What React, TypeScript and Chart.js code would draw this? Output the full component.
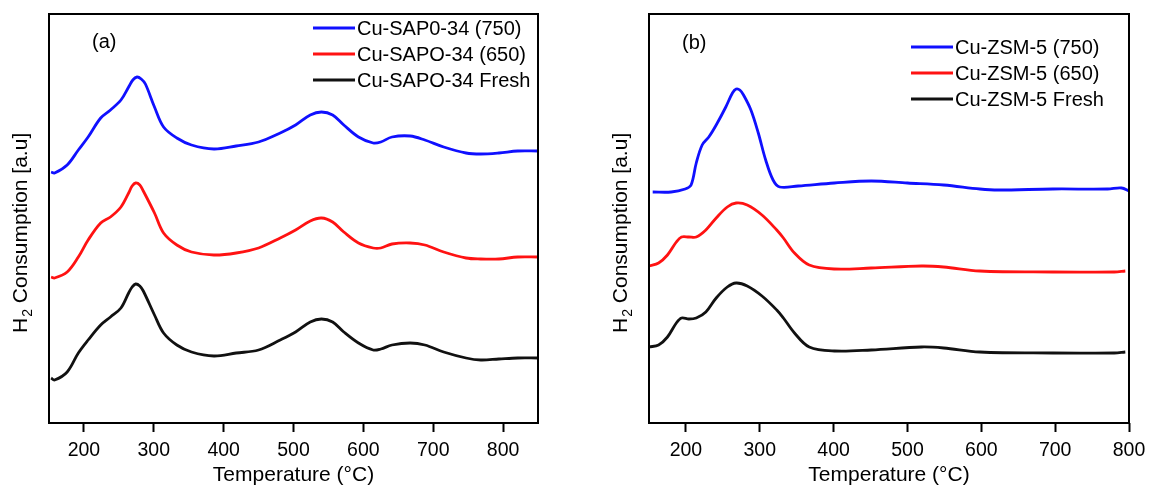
import React, { useEffect, useRef } from "react";
import { Chart, registerables } from "chart.js";

Chart.register(...registerables);

const FONT = "'Liberation Sans', Arial, Helvetica, sans-serif";

// ---------- Panel (a): Cu-SAPO-34 ----------
const tempA750 = [153, 158, 176, 192, 206, 224, 238, 253, 264, 270, 276, 282, 288, 301, 314, 333, 354, 386, 418, 450, 481, 503, 524, 540, 556, 572, 593, 614, 625, 641, 667, 688, 715, 747, 768, 794, 821, 850];
const tempA = [153, 158, 176, 192, 206, 224, 238, 253, 264, 269, 274, 280, 285, 301, 314, 333, 354, 386, 418, 450, 481, 503, 524, 540, 556, 572, 593, 614, 625, 641, 667, 688, 715, 747, 768, 794, 821, 850];
const sapo750 = [251, 250, 258, 273, 286, 305, 313, 323, 336, 343, 346, 344, 339, 316, 296, 285, 278, 274, 277, 281, 290, 298, 308, 311, 308, 298, 286, 280, 281, 286, 287, 283, 276, 270, 269, 270, 272, 272];
const sapo650 = [146, 145, 151, 166, 183, 200, 206, 216, 230, 237, 240, 238, 232, 210, 190, 178, 171, 168, 170, 175, 185, 193, 202, 205, 201, 191, 180, 175, 175, 179, 180, 178, 171, 165, 164, 164, 166, 166];
const sapoFresh = [45, 43, 51, 70, 83, 98, 106, 115, 130, 136, 139, 137, 132, 108, 90, 78, 71, 67, 70, 73, 83, 91, 101, 104, 101, 91, 80, 73, 74, 78, 80, 78, 71, 65, 63, 64, 65, 65];
const labelsA = ["Cu-SAP0-34 (750)", "Cu-SAPO-34 (650)", "Cu-SAPO-34 Fresh"];
const xTicksA = [200, 300, 400, 500, 600, 700, 800];

// ---------- Panel (b): Cu-ZSM-5 ----------
const tempB750 = [155, 180, 199, 207, 214, 222, 231, 241, 254, 263, 268, 273, 278, 288, 298, 308, 318, 327, 352, 401, 451, 500, 549, 598, 623, 697, 771, 790, 800];
const tempB = [150, 163, 175, 187, 194, 204, 214, 227, 241, 256, 268, 283, 303, 323, 332, 347, 367, 401, 451, 519, 549, 598, 697, 780, 795];
const zsm750 = [231, 231, 234, 238, 260, 278, 286, 298, 316, 330, 334, 333, 328, 313, 290, 263, 243, 236, 237, 240, 242, 240, 238, 234, 233, 234, 234, 235, 232];
const zsm650 = [157, 160, 168, 181, 186, 186, 186, 193, 205, 216, 220, 218, 208, 193, 185, 170, 158, 154, 155, 157, 156, 152, 151, 151, 152];
const zsmFresh = [76, 78, 86, 100, 105, 104, 105, 111, 125, 136, 140, 137, 127, 113, 105, 90, 76, 72, 73, 76, 75, 71, 70, 70, 71];
const labelsB = ["Cu-ZSM-5 (750)", "Cu-ZSM-5 (650)", "Cu-ZSM-5 Fresh"];
const xTicksB = [200, 300, 400, 500, 600, 700, 800];

const COLORS = ["#1010ff", "#ff1212", "#111111"];

function pts(xs: number[], ys: number[]) {
  return xs.map((x, i) => ({ x, y: ys[i] }));
}

type PanelProps = {
  left: number;
  width: number;
  padL: number;
  padR: number;
  yW: number;
  xMax: number;
  xTicks: number[];
  series: { label: string; xs: number[]; ys: number[] }[];
  tag: string;
  tagX: number;
  tagY: number;
  legendX: number;
  legendY: number;
  yTitleX: number;
};

function Panel(p: PanelProps) {
  const ref = useRef<HTMLCanvasElement>(null);
  useEffect(() => {
    const canvas = ref.current!;
    const overlay = {
      id: "overlay",
      afterDatasetsDraw(chart: any) {
        const { ctx, chartArea: a } = chart;
        ctx.save();
        ctx.strokeStyle = "#000";
        ctx.lineWidth = 2;
        ctx.strokeRect(a.left, a.top, a.right - a.left, a.bottom - a.top);
        // panel tag
        ctx.fillStyle = "#000";
        ctx.font = `20px ${FONT}`;
        ctx.textBaseline = "middle";
        ctx.textAlign = "left";
        ctx.fillText(p.tag, p.tagX, p.tagY);
        // legend
        chart.data.datasets.forEach((ds: any, i: number) => {
          const y = p.legendY + i * 26;
          ctx.strokeStyle = ds.borderColor;
          ctx.lineWidth = 3;
          ctx.beginPath();
          ctx.moveTo(p.legendX, y);
          ctx.lineTo(p.legendX + 42, y);
          ctx.stroke();
          ctx.fillStyle = "#000";
          ctx.fillText(ds.label, p.legendX + 44, y + 1);
        });
        // y title with subscript
        ctx.translate(p.yTitleX, 333);
        ctx.rotate(-Math.PI / 2);
        ctx.textBaseline = "alphabetic";
        ctx.font = `21px ${FONT}`;
        ctx.fillText("H", 0, 0);
        let w = ctx.measureText("H").width;
        ctx.font = `14px ${FONT}`;
        ctx.fillText("2", w + 1, 5);
        w += 1 + ctx.measureText("2").width;
        ctx.font = `21px ${FONT}`;
        ctx.fillText(" Consumption [a.u]", w, 0);
        ctx.restore();
      },
    };
    const chart = new Chart(canvas, {
      type: "line",
      data: {
        datasets: p.series.map((s, i) => ({
          label: s.label,
          data: pts(s.xs, s.ys),
          borderColor: COLORS[i],
          backgroundColor: COLORS[i],
          borderWidth: 2.8,
          pointRadius: 0,
          tension: 0.35,
          fill: false,
        })),
      },
      options: {
        responsive: false,
        animation: false,
        devicePixelRatio: 1,
        layout: { padding: { left: p.padL, right: p.padR, top: 14, bottom: 0 } },
        plugins: { legend: { display: false }, tooltip: { enabled: false } },
        scales: {
          x: {
            type: "linear",
            min: 150,
            max: p.xMax,
            afterFit: (s: any) => {
              s.height = 63;
            },
            afterBuildTicks: (s: any) => {
              s.ticks = p.xTicks.map((v) => ({ value: v }));
            },
            grid: {
              display: true,
              drawOnChartArea: false,
              drawTicks: true,
              tickLength: 9,
              tickWidth: 2,
              tickColor: "#000",
            },
            border: { display: false },
            ticks: {
              color: "#000",
              font: { family: FONT, size: 19.5 },
              padding: 7,
              maxRotation: 0,
              autoSkip: false,
            },
            title: {
              display: true,
              text: "Temperature (°C)",
              color: "#000",
              font: { family: FONT, size: 21 },
              padding: { top: 0, bottom: -2 },
            },
          },
          y: {
            type: "linear",
            min: 0,
            max: 409,
            afterFit: (s: any) => {
              s.width = p.yW;
            },
            ticks: { display: false },
            grid: { display: false },
            border: { display: false },
          },
        },
      },
      plugins: [overlay],
    } as any);
    return () => chart.destroy();
  }, []);
  return (
    <canvas
      ref={ref}
      width={p.width}
      height={486}
      style={{ position: "absolute", left: p.left, top: 0, width: p.width, height: 486 }}
    />
  );
}

export default function App() {
  return (
    <div style={{ position: "fixed", left: 0, top: 0, width: 1149, height: 486, background: "#fff", overflow: "hidden" }}>
      <Panel
        left={0}
        width={575}
        padL={0}
        padR={37}
        yW={49}
        xMax={850}
        xTicks={xTicksA}
        series={[
          { label: labelsA[0], xs: tempA750, ys: sapo750 },
          { label: labelsA[1], xs: tempA, ys: sapo650 },
          { label: labelsA[2], xs: tempA, ys: sapoFresh },
        ]}
        tag="(a)"
        tagX={92}
        tagY={42}
        legendX={313}
        legendY={28}
        yTitleX={27}
      />
      <Panel
        left={575}
        width={584}
        padL={24}
        padR={30}
        yW={50}
        xMax={800}
        xTicks={xTicksB}
        series={[
          { label: labelsB[0], xs: tempB750, ys: zsm750 },
          { label: labelsB[1], xs: tempB, ys: zsm650 },
          { label: labelsB[2], xs: tempB, ys: zsmFresh },
        ]}
        tag="(b)"
        tagX={107}
        tagY={43}
        legendX={336}
        legendY={47}
        yTitleX={52}
      />
    </div>
  );
}
